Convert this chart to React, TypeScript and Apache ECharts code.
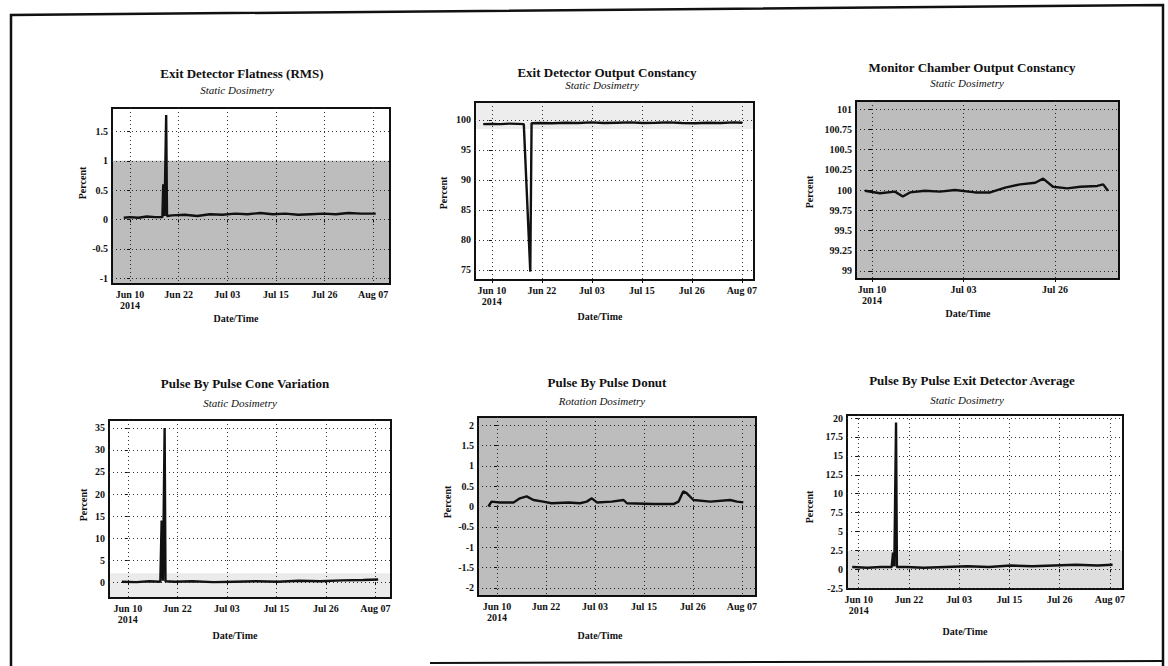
import React, { useEffect, useRef } from 'react';
import * as echarts from 'echarts';

// ---- x ticks (days after Jun 10 2014) ----
const xTickDays = [0, 11.574, 23.148, 34.722, 46.296, 57.87];
const xTickLabels = ['Jun 10\n2014', 'Jun 22', 'Jul 03', 'Jul 15', 'Jul 26', 'Aug 07'];
const xTickDaysSparse = [0, 23.148, 46.296];

// ---- titles ----
const titles = [
  'Exit Detector Flatness (RMS)',
  'Exit Detector Output Constancy',
  'Monitor Chamber Output Constancy',
  'Pulse By Pulse Cone Variation',
  'Pulse By Pulse Donut',
  'Pulse By Pulse Exit Detector Average',
];
const subtitles = [
  'Static Dosimetry',
  'Static Dosimetry',
  'Static Dosimetry',
  'Static Dosimetry',
  'Rotation Dosimetry',
  'Static Dosimetry',
];

// ---- y ticks ----
const yTicks1 = [-1, -0.5, 0, 0.5, 1, 1.5];
const yTicks2 = [75, 80, 85, 90, 95, 100];
const yTicks3 = [99, 99.25, 99.5, 99.75, 100, 100.25, 100.5, 100.75, 101];
const yTicks4 = [0, 5, 10, 15, 20, 25, 30, 35];
const yTicks5 = [-2, -1.5, -1, -0.5, 0, 0.5, 1, 1.5, 2];
const yTicks6 = [-2.5, 0, 2.5, 5, 7.5, 10, 12.5, 15, 17.5, 20];

// ---- series data ----
const flatDays = [-1.5, 0, 2, 4, 6, 7.7, 7.9, 8.2, 8.6, 8.8, 10, 13, 16, 19, 22, 25, 28, 31, 34, 37, 40, 43, 46, 49, 52, 55, 58.5];
const flatVals = [0.03, 0.04, 0.03, 0.05, 0.04, 0.04, 0.6, 0.06, 1.78, 0.06, 0.07, 0.08, 0.06, 0.09, 0.08, 0.1, 0.09, 0.11, 0.09, 0.1, 0.08, 0.09, 0.1, 0.09, 0.11, 0.1, 0.1];

const outDays = [-2, 0, 2, 4, 6, 7.4, 8.9, 9.2, 11, 14, 17, 20, 23, 26, 29, 32, 35, 38, 41, 44, 47, 50, 53, 56, 58];
const outVals = [99.3, 99.35, 99.3, 99.4, 99.35, 99.3, 74.7, 99.45, 99.5, 99.45, 99.55, 99.5, 99.6, 99.5, 99.55, 99.6, 99.5, 99.55, 99.6, 99.5, 99.45, 99.55, 99.5, 99.6, 99.55];

const monDays = [-1.8, 2, 5.8, 7.8, 9.6, 13.4, 17.2, 21, 26.1, 29.9, 33.7, 37.5, 41.3, 43.3, 45.8, 49.4, 52.7, 57, 58.5, 59.7];
const monVals = [99.99, 99.96, 99.98, 99.92, 99.97, 99.99, 99.98, 100.0, 99.97, 99.97, 100.03, 100.07, 100.09, 100.14, 100.04, 100.02, 100.04, 100.05, 100.07, 99.99];

const coneDays = [-1.4, 2, 5, 7.6, 7.9, 8.2, 8.6, 8.8, 11, 15, 20, 25, 30, 35, 40, 45, 50, 55, 58.5];
const coneVals = [0.1, 0.0, 0.2, 0.1, 14, 0.3, 35, 0.2, 0.1, 0.2, 0.0, 0.1, 0.2, 0.1, 0.3, 0.2, 0.4, 0.5, 0.6];

const donutDays = [-2.05, -1.3, 0.7, 3.9, 5.4, 7.0, 8.6, 10.9, 12.9, 16.9, 19.6, 21.2, 22.4, 23.6, 27.1, 29.9, 30.7, 37.0, 41.7, 42.9, 44.0, 44.8, 46.4, 50.4, 55.1, 56.7, 58.2];
const donutVals = [0.0, 0.12, 0.1, 0.1, 0.2, 0.25, 0.16, 0.12, 0.08, 0.1, 0.08, 0.12, 0.2, 0.1, 0.12, 0.16, 0.08, 0.06, 0.06, 0.12, 0.37, 0.33, 0.16, 0.12, 0.16, 0.12, 0.1];

const avgDays = [-1.5, 2, 5, 7.6, 7.9, 8.2, 8.6, 8.8, 11, 15, 20, 25, 30, 35, 40, 45, 50, 55, 58.5];
const avgVals = [0.3, 0.2, 0.3, 0.3, 2.2, 0.4, 19.4, 0.3, 0.3, 0.2, 0.3, 0.4, 0.3, 0.5, 0.4, 0.5, 0.6, 0.5, 0.6];

// ---- layout (px) ----
type Panel = {
  grid: { left: number; top: number; width: number; height: number };
  xMin: number; xMax: number; yMin: number; yMax: number;
  yTicks: number[]; xTicks: number[];
  days: number[]; vals: number[];
  band?: [number, number, string];
  titleX: number; titleY: number; subY: number;
  pX: number; pY: number; dX: number; dY: number;
};

const panels: Panel[] = [
  { grid: { left: 112, top: 108, width: 278, height: 176 }, xMin: -4.3, xMax: 61.9, yMin: -1.1, yMax: 1.9, yTicks: yTicks1, xTicks: xTickDays, days: flatDays, vals: flatVals, band: [-1.1, 1, 'rgba(0,0,0,0.26)'], titleX: 242, titleY: 73, subY: 90, pX: 82, pY: 183, dX: 236, dY: 318 },
  { grid: { left: 475, top: 102, width: 279, height: 178 }, xMin: -3.9, xMax: 60.7, yMin: 73.3, yMax: 103, yTicks: yTicks2, xTicks: xTickDays, days: outDays, vals: outVals, band: [98.5, 103, 'rgba(0,0,0,0.07)'], titleX: 607, titleY: 72, subY: 85, pX: 443, pY: 193, dX: 600, dY: 316 },
  { grid: { left: 856, top: 101, width: 263, height: 178 }, xMin: -4.05, xMax: 62.5, yMin: 98.9, yMax: 101.1, yTicks: yTicks3, xTicks: xTickDaysSparse, days: monDays, vals: monVals, band: [98.9, 101.1, 'rgba(0,0,0,0.26)'], titleX: 972, titleY: 67, subY: 83, pX: 809, pY: 192, dX: 968, dY: 313 },
  { grid: { left: 109, top: 420, width: 282, height: 178 }, xMin: -4.4, xMax: 61.5, yMin: -3.6, yMax: 36.8, yTicks: yTicks4, xTicks: xTickDays, days: coneDays, vals: coneVals, band: [-3.6, 2, 'rgba(0,0,0,0.08)'], titleX: 245, titleY: 383, subY: 403, pX: 83, pY: 505, dX: 235, dY: 635 },
  { grid: { left: 478, top: 417, width: 278, height: 179 }, xMin: -4.5, xMax: 61.2, yMin: -2.2, yMax: 2.2, yTicks: yTicks5, xTicks: xTickDays, days: donutDays, vals: donutVals, band: [-2.2, 2.2, 'rgba(0,0,0,0.26)'], titleX: 607, titleY: 382, subY: 401, pX: 447, pY: 502, dX: 600, dY: 635 },
  { grid: { left: 847, top: 415, width: 276, height: 174 }, xMin: -2.7, xMax: 60.9, yMin: -2.6, yMax: 20.4, yTicks: yTicks6, xTicks: xTickDays, days: avgDays, vals: avgVals, band: [-2.6, 2.5, 'rgba(0,0,0,0.13)'], titleX: 972, titleY: 380, subY: 400, pX: 809, pY: 507, dX: 965, dY: 631 },
];

const FONT = '"Liberation Serif", "DejaVu Serif", serif';

function labelFor(v: number): string {
  let best = 0;
  let bd = Infinity;
  xTickDays.forEach((d, i) => {
    const dd = Math.abs(d - v);
    if (dd < bd) { bd = dd; best = i; }
  });
  return xTickLabels[best];
}

function txt(x: number, y: number, text: string, font: string, rot = 0) {
  return {
    type: 'text', x, y, rotation: rot, silent: true,
    style: { text, font, fill: '#111', textAlign: 'center', textVerticalAlign: 'middle', align: 'center', verticalAlign: 'middle' },
  };
}

export default function App() {
  const ref = useRef<HTMLDivElement>(null);
  useEffect(() => {
    if (!ref.current) return;
    const chart = echarts.init(ref.current, undefined, { renderer: 'svg' });

    const grids = panels.map((p) => ({ ...p.grid, show: true, borderColor: '#111', borderWidth: 2, backgroundColor: 'transparent', containLabel: false }));
    const xAxes = panels.map((p, i) => ({
      type: 'value', gridIndex: i, min: p.xMin, max: p.xMax,
      axisLine: { show: false },
      axisTick: { show: true, length: 3, lineStyle: { color: '#111' }, customValues: p.xTicks },
      axisLabel: { customValues: p.xTicks, formatter: (v: number) => labelFor(v), fontFamily: FONT, fontSize: 10, fontWeight: 'bold', color: '#111', margin: 5, lineHeight: 11 },
      splitLine: { show: true, lineStyle: { type: [1, 3], color: '#333', width: 1 } },
    }));
    const yAxes = panels.map((p, i) => ({
      type: 'value', gridIndex: i, min: p.yMin, max: p.yMax,
      axisLine: { show: false },
      axisTick: { show: true, length: 3, lineStyle: { color: '#111' }, customValues: p.yTicks },
      axisLabel: { customValues: p.yTicks, fontFamily: FONT, fontSize: 10, fontWeight: 'bold', color: '#111', margin: 4 },
      splitLine: { show: true, lineStyle: { type: [1, 3], color: '#333', width: 1 } },
    }));
    const series = panels.map((p, i) => ({
      type: 'line', xAxisIndex: i, yAxisIndex: i, showSymbol: false, symbol: 'none',
      lineStyle: { color: '#111', width: 2.4 },
      data: p.days.map((d, k) => [d, p.vals[k]]),
      markArea: p.band ? { silent: true, itemStyle: { color: p.band[2] }, data: [[{ yAxis: p.band[0] }, { yAxis: p.band[1] }]] } : undefined,
    }));

    const graphics: any[] = [];
    panels.forEach((p, i) => {
      graphics.push(txt(p.titleX, p.titleY, titles[i], `bold 13px ${FONT}`));
      graphics.push(txt(p.titleX - 5, p.subY, subtitles[i], `italic 11px ${FONT}`));
      graphics.push(txt(p.pX, p.pY, 'Percent', `bold 10px ${FONT}`, Math.PI / 2));
      graphics.push(txt(p.dX, p.dY, 'Date/Time', `bold 10px ${FONT}`));
    });
    graphics.push({ type: 'polyline', silent: true, shape: { points: [[11, 666], [11, 15], [1163, 5], [1163, 666]] }, style: { stroke: '#111', lineWidth: 2.5, fill: null } });
    graphics.push({ type: 'line', silent: true, shape: { x1: 430, y1: 663, x2: 1163, y2: 661 }, style: { stroke: '#111', lineWidth: 2 } });

    chart.setOption({
      animation: false,
      backgroundColor: '#ffffff',
      grid: grids,
      xAxis: xAxes,
      yAxis: yAxes,
      series,
      graphic: graphics,
    });
    return () => chart.dispose();
  }, []);
  return <div ref={ref} style={{ position: 'fixed', left: 0, top: 0, width: 1168, height: 666, background: '#fff' }} />;
}
